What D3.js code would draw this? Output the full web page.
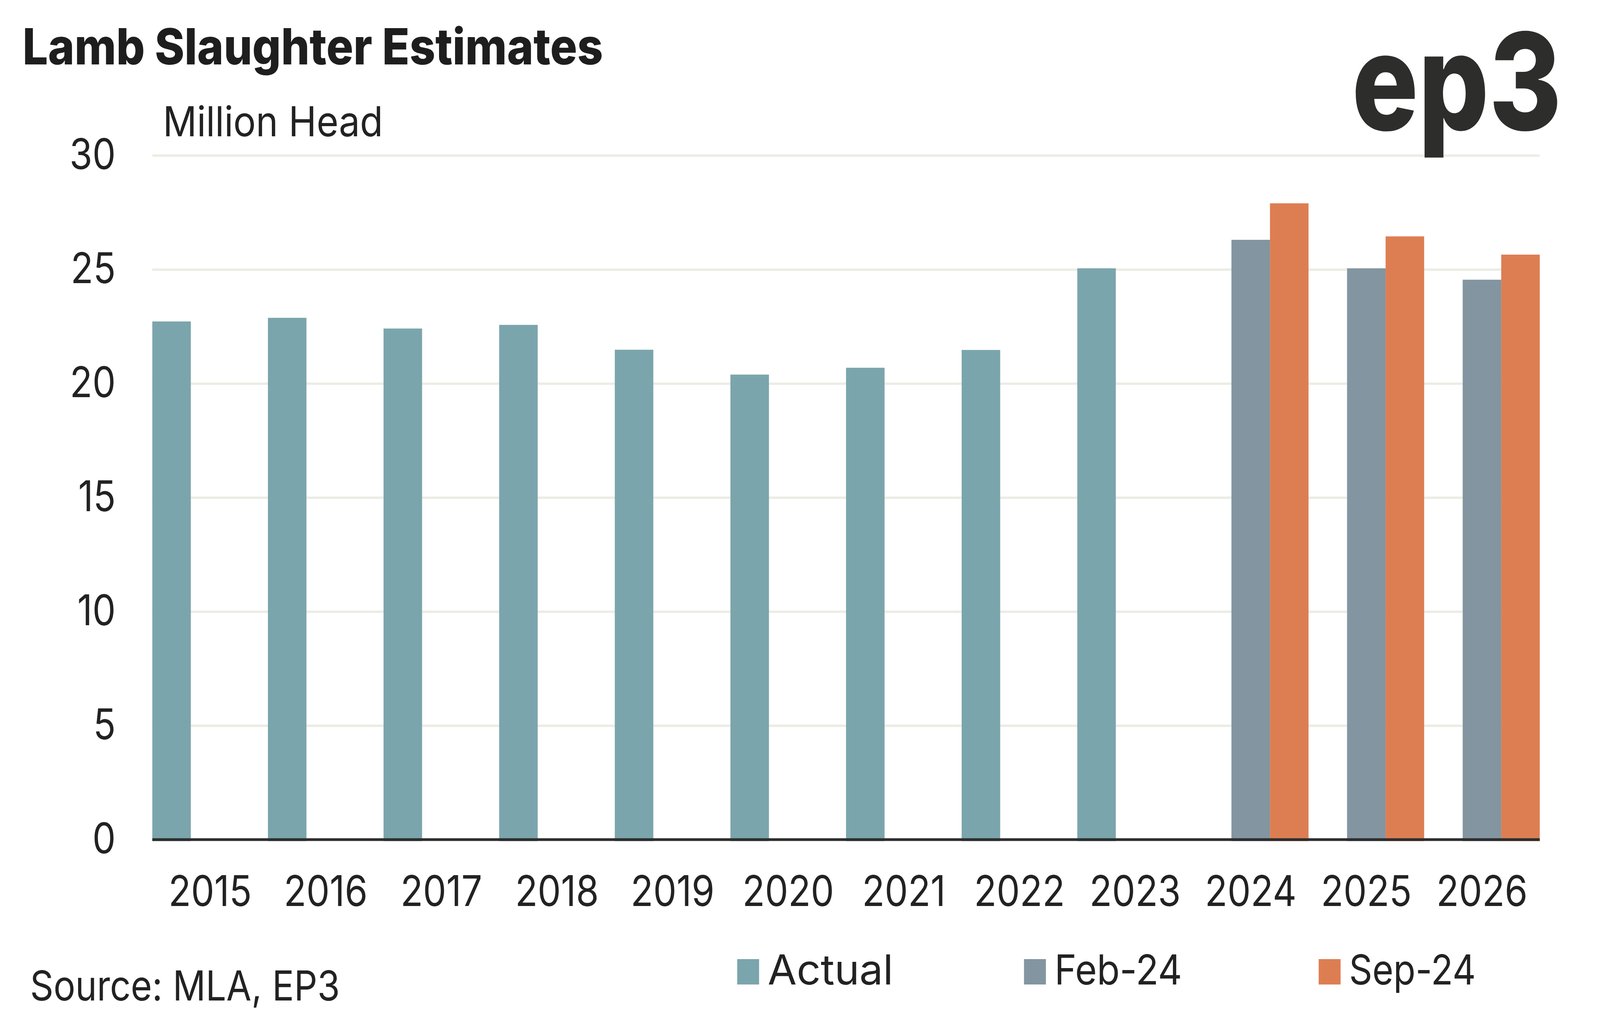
<!DOCTYPE html>
<html>
<head>
<meta charset="utf-8">
<script src="https://cdn.jsdelivr.net/npm/d3@7"></script>
<style>
  html, body { margin: 0; padding: 0; background: #fff; overflow: hidden; }
  svg { display: block; width: 100vw; height: 100vh; font-family: Inter, "Noto Sans", sans-serif; }
</style>
</head>
<body>
<svg id="chart"></svg>
<script>
// Lamb slaughter, million head
const years = ["2015", "2016", "2017", "2018", "2019", "2020", "2021", "2022", "2023", "2024", "2025", "2026"];
const seriesNames = ["Actual", "Feb-24", "Sep-24"];
const actual = [22.72, 22.88, 22.41, 22.57, 21.48, 20.39, 20.69, 21.47, 25.05, null, null, null];
const feb24 = [null, null, null, null, null, null, null, null, null, 26.3, 25.05, 24.55];
const sep24 = [null, null, null, null, null, null, null, null, null, 27.9, 26.45, 25.65];
const yTicks = [0, 5, 10, 15, 20, 25, 30];

const colors = { "Actual": "#7ba5ac", "Feb-24": "#8295a0", "Sep-24": "#dd7e52" };
const textColor = "#222222";

const W = 4675, H = 2594;
const margin = { top: 398, right: 176, bottom: 444, left: 445 }; // plot box 445..4499, 398..2150
const innerW = W - margin.left - margin.right,
      innerH = H - margin.top - margin.bottom;

// drawing is laid out at 4675x2594 and stretched to fill the window
const svg = d3.select("#chart")
    .attr("viewBox", `0 0 ${W} ${H}`)
    .attr("preserveAspectRatio", "none");
svg.append("rect").attr("width", W).attr("height", H).attr("fill", "#fff");

const rows = years.map((y, i) => ({
    year: y,
    values: [
        { key: "Actual", value: actual[i] },
        { key: "Feb-24", value: feb24[i] },
        { key: "Sep-24", value: sep24[i] }
    ].filter(d => d.value != null)
}));

const x0 = d3.scaleBand().domain(years).range([0, innerW]).padding(0);
const x1 = d3.scaleBand().domain(seriesNames).range([0, x0.bandwidth()]).padding(0);
const y = d3.scaleLinear().domain([0, 30]).range([innerH, 0]);

const chart = svg.append("g").attr("transform", `translate(${margin.left},${margin.top})`);

// gridlines
chart.append("g")
    .call(d3.axisLeft(y).tickValues(yTicks.filter(t => t > 0)).tickSize(-innerW).tickFormat(""))
    .call(g => g.select(".domain").remove())
    .selectAll("line")
    .attr("stroke", "#ecece4")
    .attr("stroke-width", 6);

// y labels
chart.append("g")
    .call(d3.axisLeft(y).tickValues(yTicks).tickSize(0).tickPadding(107))
    .call(g => g.select(".domain").remove())
    .selectAll("text")
    .attr("fill", textColor)
    .attr("font-size", 108)
    .attr("font-family", "Inter, sans-serif");

// bars
chart.selectAll(".year")
    .data(rows)
    .enter()
    .append("g")
    .attr("class", "year")
    .attr("transform", d => `translate(${x0(d.year)},0)`)
    .selectAll("rect")
    .data(d => d.values)
    .enter()
    .append("rect")
    .attr("x", d => x1(d.key))
    .attr("y", d => y(d.value))
    .attr("width", x1.bandwidth())
    .attr("height", d => innerH - y(d.value) + 4)
    .attr("fill", d => colors[d.key]);

// x axis
chart.append("g")
    .attr("transform", `translate(0,${innerH})`)
    .call(d3.axisBottom(x0).tickSize(0))
    .call(g => g.select(".domain").remove())
    .selectAll("text")
    .attr("y", 170)
    .attr("dy", 0)
    .attr("fill", textColor)
    .attr("font-size", 108)
    .attr("font-family", "Inter, sans-serif");

chart.append("line")
    .attr("x1", 0).attr("x2", innerW)
    .attr("y1", innerH).attr("y2", innerH)
    .attr("stroke", "#2d2d2d")
    .attr("stroke-width", 7);

// titles
svg.append("text")
    .attr("x", 66).attr("y", 165)
    .attr("font-size", 128)
    .attr("font-weight", 800)
    .attr("fill", "#1e1e1e")
    .attr("textLength", 1696)
    .attr("lengthAdjust", "spacingAndGlyphs")
    .text("Lamb Slaughter Estimates");

svg.append("text")
    .attr("x", 476).attr("y", 349)
    .attr("font-size", 106)
    .attr("fill", textColor)
    .attr("textLength", 643)
    .attr("lengthAdjust", "spacingAndGlyphs")
    .text("Million Head");

svg.append("text")
    .attr("x", 3950).attr("y", 333)
    .attr("font-size", 345)
    .attr("font-weight", 800)
    .attr("fill", "#2d2d2b")
    .attr("textLength", 613)
    .attr("lengthAdjust", "spacingAndGlyphs")
    .text("ep3");

svg.append("text")
    .attr("x", 88).attr("y", 2562)
    .attr("font-size", 106)
    .attr("fill", textColor)
    .attr("textLength", 905)
    .attr("lengthAdjust", "spacingAndGlyphs")
    .text("Source: MLA, EP3");

// legend
const legendX = [2154, 2992, 3853];
const legendW = [367, 373, 370];
const legend = svg.selectAll(".legend")
    .data(seriesNames)
    .enter()
    .append("g")
    .attr("class", "legend")
    .attr("transform", (d, i) => `translate(${legendX[i]},2456)`);

legend.append("rect")
    .attr("width", 64).attr("height", 65)
    .attr("fill", d => colors[d]);

legend.append("text")
    .attr("x", 89).attr("y", 65)
    .attr("font-size", 106)
    .attr("fill", textColor)
    .attr("textLength", (d, i) => legendW[i])
    .attr("lengthAdjust", "spacingAndGlyphs")
    .text(d => d);
</script>
</body>
</html>
